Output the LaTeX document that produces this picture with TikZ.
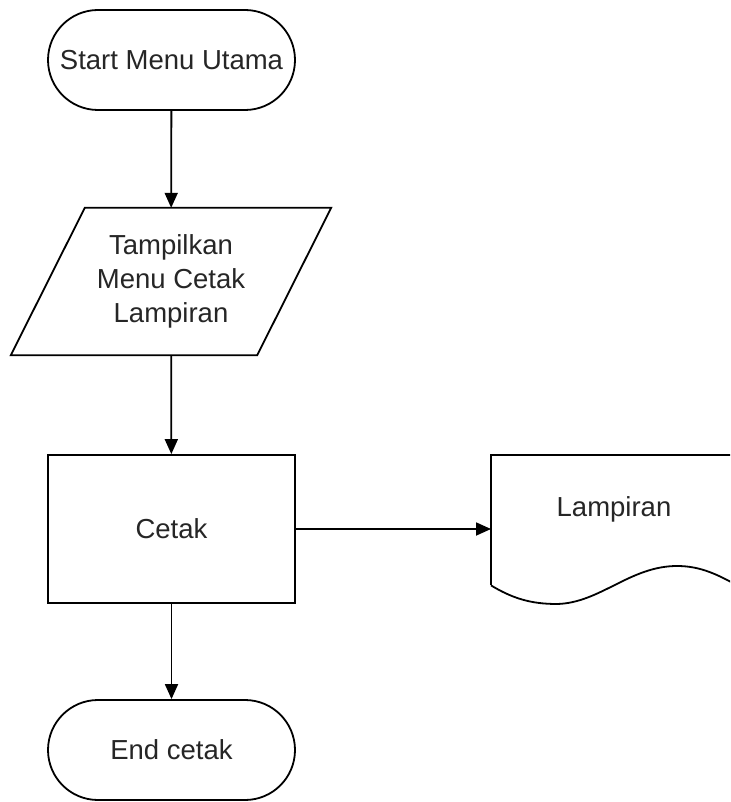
\documentclass[tikz,border=0pt]{standalone}
\usepackage{fontspec}
\setmainfont{Liberation Sans}
\usetikzlibrary{arrows.meta}
\begin{document}
\begin{tikzpicture}[x=1pt,y=-1pt,
  every node/.style={font=\fontsize{27.5}{34}\selectfont, align=center, inner sep=0pt, text=black!85},
  outline/.style={draw=black, line width=1.8pt},
  term/.style={outline, rounded corners=50pt, minimum width=247pt, minimum height=100pt},
  procbox/.style={outline, minimum width=247pt, minimum height=148pt},
  flow/.style={line width=1.8pt, -{Triangle[length=15pt,width=13pt]}}
]
\clip (0,0) rectangle (730,802);
\fill[white] (0,0) rectangle (730,802);

\node[term] (start) at (171.5,60) {Start Menu Utama};

\node[minimum width=246pt, minimum height=147pt] (para) at (171,281.5) {Tampilkan\\Menu Cetak\\Lampiran};
\draw[outline, line join=miter] ([xshift=37pt]para.north west) -- ([xshift=37pt]para.north east)
  -- ([xshift=-37pt]para.south east) -- ([xshift=-37pt]para.south west) -- cycle;

\node[procbox] (cetak) at (171.5,529) {Cetak};

\node[term] (end) at (171.5,750) {End cetak};

\node[minimum width=254pt, minimum height=130pt, anchor=north west] (doc) at (491,455) {};
\node at (614,509) {Lampiran};
\draw[outline] (doc.south west) -- (doc.north west) -- (760,455);
\draw[outline] (doc.south west) .. controls (512,598) and (530,604) .. (557,604)
  .. controls (600,603) and (630,566) .. (677,566)
  .. controls (700,566) and (718,574) .. (745,590);

\draw[flow] (start) -- (para);
\draw[flow] (para) -- (cetak);
\draw[flow] (cetak) -- (end);
\draw[flow] (cetak.east) -- (cetak.east -| doc.west);
\end{tikzpicture}
\end{document}
